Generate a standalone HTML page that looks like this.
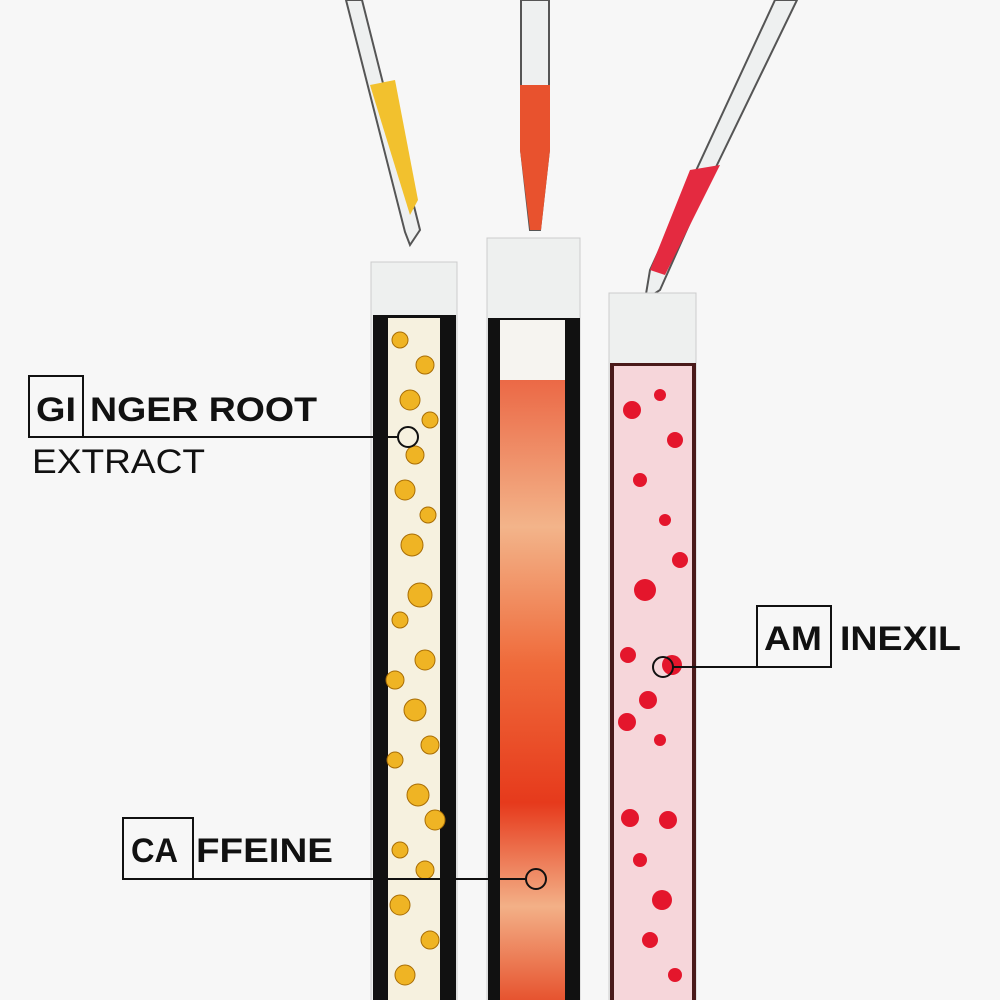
<!DOCTYPE html>
<html><head><meta charset="utf-8"><style>
html,body{margin:0;padding:0;background:#f7f7f7}
svg{display:block}
text{font-family:"Liberation Sans",sans-serif;fill:#111}
</style></head><body>
<svg width="1000" height="1000" viewBox="0 0 1000 1000" xmlns="http://www.w3.org/2000/svg">
<defs>
<linearGradient id="cr" x1="0" x2="0" y1="0" y2="1">
<stop offset="0" stop-color="#e84a2a"/><stop offset="0.3" stop-color="#f3b48a"/><stop offset="0.5" stop-color="#ef6a3a"/><stop offset="0.7" stop-color="#e63a1c"/><stop offset="0.85" stop-color="#f3b087"/><stop offset="1" stop-color="#e54a26"/>
</linearGradient>
</defs>
<rect width="1000" height="1000" fill="#f7f7f7"/>
<!-- pipettes -->
<g stroke="#555" stroke-width="2" fill="#eef0f0">
<polygon points="346,0 362,0 420,230 410,245 405,232"/>
<polygon points="521,0 549,0 549,150 540,230 530,230 521,150"/>
<polygon points="775,0 797,0 700,200 660,290 645,300 650,270"/>
</g>
<polygon points="370,85 395,80 418,200 410,215" fill="#f2c12e"/>
<polygon points="520,85 550,85 550,150 541,230 530,230 520,150" fill="#e8522e"/>
<polygon points="690,170 720,165 665,275 650,270" fill="#e42a40"/>
<!-- tube 1 -->
<rect x="371" y="262" width="86" height="740" fill="#eef0ef" stroke="#ccc"/>
<rect x="373" y="315" width="83" height="690" fill="#111"/>
<rect x="388" y="318" width="52" height="690" fill="#f6f1df"/>
<g fill="#efb424" stroke="#a86d05" stroke-width="1">
<circle cx="400" cy="340" r="8"/><circle cx="425" cy="365" r="9"/><circle cx="410" cy="400" r="10"/><circle cx="430" cy="420" r="8"/><circle cx="415" cy="455" r="9"/><circle cx="405" cy="490" r="10"/><circle cx="428" cy="515" r="8"/><circle cx="412" cy="545" r="11"/><circle cx="420" cy="595" r="12"/><circle cx="400" cy="620" r="8"/><circle cx="425" cy="660" r="10"/><circle cx="395" cy="680" r="9"/><circle cx="415" cy="710" r="11"/><circle cx="430" cy="745" r="9"/><circle cx="395" cy="760" r="8"/><circle cx="418" cy="795" r="11"/><circle cx="435" cy="820" r="10"/><circle cx="400" cy="850" r="8"/><circle cx="425" cy="870" r="9"/><circle cx="400" cy="905" r="10"/><circle cx="430" cy="940" r="9"/><circle cx="405" cy="975" r="10"/>
</g>
<!-- tube 2 -->
<rect x="487" y="238" width="93" height="765" fill="#eef0ef" stroke="#ccc"/>
<rect x="488" y="318" width="92" height="690" fill="#111"/>
<rect x="500" y="320" width="65" height="690" fill="url(#cr)"/>
<rect x="500" y="320" width="65" height="60" fill="#f6f4f0"/>
<!-- tube 3 -->
<rect x="609" y="293" width="87" height="710" fill="#eef0ef" stroke="#ccc"/>
<rect x="610" y="363" width="86" height="640" fill="#4a1a1a"/>
<rect x="614" y="366" width="78" height="640" fill="#f6d6da"/>
<g fill="#e4162c">
<circle cx="632" cy="410" r="9"/><circle cx="660" cy="395" r="6"/><circle cx="675" cy="440" r="8"/><circle cx="640" cy="480" r="7"/><circle cx="665" cy="520" r="6"/><circle cx="680" cy="560" r="8"/><circle cx="645" cy="590" r="11"/><circle cx="628" cy="655" r="8"/><circle cx="672" cy="665" r="10"/><circle cx="648" cy="700" r="9"/><circle cx="627" cy="722" r="9"/><circle cx="660" cy="740" r="6"/><circle cx="630" cy="818" r="9"/><circle cx="668" cy="820" r="9"/><circle cx="640" cy="860" r="7"/><circle cx="662" cy="900" r="10"/><circle cx="650" cy="940" r="8"/><circle cx="675" cy="975" r="7"/>
</g>
<!-- labels -->
<g fill="none" stroke="#111" stroke-width="2">
<rect x="29" y="376" width="54" height="61"/>
<line x1="29" y1="437" x2="398" y2="437"/>
<circle cx="408" cy="437" r="10"/>
<rect x="123" y="818" width="70" height="61"/>
<line x1="123" y1="879" x2="526" y2="879"/>
<circle cx="536" cy="879" r="10"/>
<rect x="757" y="606" width="74" height="61"/>
<line x1="831" y1="667" x2="673" y2="667"/>
<circle cx="663" cy="667" r="10"/>
</g>
<text x="36" y="421" font-size="34" font-weight="bold" textLength="40" lengthAdjust="spacingAndGlyphs">GI</text>
<text x="90" y="421" font-size="34" font-weight="bold" textLength="227" lengthAdjust="spacingAndGlyphs">NGER ROOT</text>
<text x="32" y="473" font-size="34" fill="#222" textLength="173" lengthAdjust="spacingAndGlyphs">EXTRACT</text>
<text x="131" y="862" font-size="34" font-weight="bold" textLength="47" lengthAdjust="spacingAndGlyphs">CA</text>
<text x="196" y="862" font-size="34" font-weight="bold" textLength="137" lengthAdjust="spacingAndGlyphs">FFEINE</text>
<text x="764" y="650" font-size="34" font-weight="bold" textLength="58" lengthAdjust="spacingAndGlyphs">AM</text>
<text x="840" y="650" font-size="34" font-weight="bold" textLength="121" lengthAdjust="spacingAndGlyphs">INEXIL</text>
</svg>
</body></html>
